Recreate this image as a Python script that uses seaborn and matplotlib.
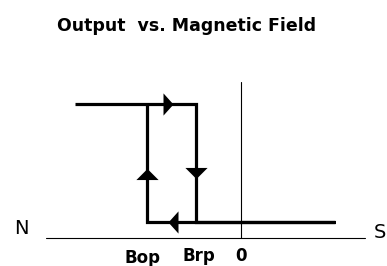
import pandas as pd
import matplotlib
matplotlib.use("Agg")
import matplotlib.pyplot as plt
import seaborn as sns

# hysteresis loop of a latching hall sensor (field in arbitrary units)
b_start = -3.53
b_op = -2.0
b_rp = -0.95
b_end = 2.0
out_low = 0.0
out_high = 1.0

# path: high output moving right, drop at Brp, continue right, come back, rise at Bop
path_field = [b_start, b_rp, b_rp, b_end, b_op, b_op]
path_output = [out_high, out_high, out_low, out_low, out_low, out_high]

# direction arrows along the loop
arrow_field = [-1.55, -1.45, b_op, b_rp]
arrow_output = [out_high, out_low, 0.41, 0.415]
arrow_dir = ["right", "left", "up", "down"]

# reference axes
axis_field = [-4.15, 2.64]
axis_level = -0.136
axis_top = 1.19

tick_labels = ["Bop", "Brp", "0"]
tick_pos = [-2.1, -0.89, 0.0]
tick_base = [-0.347, -0.33, -0.33]

df = pd.DataFrame({"field": path_field, "output": path_output})

sns.set_style("white")
plt.rcParams["text.color"] = "black"
fig = plt.figure(figsize=(3.87, 2.66), dpi=100)
ax = fig.add_axes([0, 0, 1, 1])

# thin axis lines
ax.plot(axis_field, [axis_level, axis_level], color="black", lw=0.8)
ax.plot([0, 0], [axis_level, axis_top], color="black", lw=0.8)

sns.lineplot(data=df, x="field", y="output", sort=False, estimator=None,
             color="black", lw=2.3, ax=ax)
ax.lines[-1].set_solid_joinstyle("miter")
ax.lines[-1].set_solid_capstyle("butt")

tri = {
    "right": [(0.45, 0), (-0.45, 1), (-0.45, -1)],
    "left": [(-0.45, 0), (0.45, 1), (0.45, -1)],
    "up": [(0, 0.5), (1, -0.5), (-1, -0.5)],
    "down": [(0, -0.5), (1, 0.5), (-1, 0.5)],
}
for x, y, d in zip(arrow_field, arrow_output, arrow_dir):
    ax.plot([x], [y], marker=tri[d], markersize=16, color="black",
            markeredgewidth=0, linestyle="none")

for lab, x, y in zip(tick_labels, tick_pos, tick_base):
    ax.text(x, y, lab, ha="center", va="baseline", fontsize=12,
            fontweight="bold", color="black")

ax.text(-4.68, -0.10, "N", ha="center", va="baseline", fontsize=14, color="black")
ax.text(2.96, -0.136, "S", ha="center", va="baseline", fontsize=14, color="black")

ax.text(0.482, 0.883, "Output  vs. Magnetic Field", transform=ax.transAxes,
        ha="center", va="baseline", fontsize=12.5, fontweight="bold", color="black")

ax.set_xlim(-5.128, 3.106)
ax.set_ylim(-0.373, 1.881)
ax.axis("off")

plt.savefig("out.png", dpi=100)
